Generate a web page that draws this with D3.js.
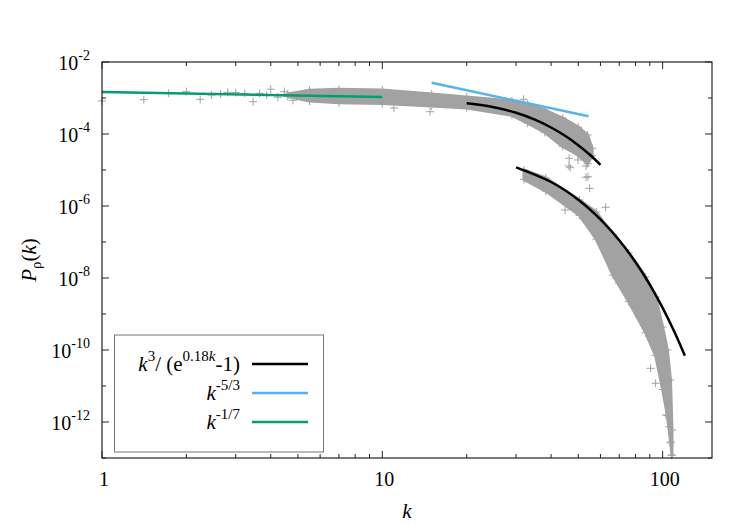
<!DOCTYPE html>
<html><head><meta charset="utf-8">
<script src="https://cdn.jsdelivr.net/npm/d3@7"></script>
<style>body{margin:0;background:#fff}svg{display:block}text{font-family:"Liberation Serif","Times New Roman",serif;fill:#000}</style>
</head><body><svg id="c" width="750" height="525"></svg>
<script>
// ---- data ----
// sparse low-k points of the upper spectrum
const lowK = [1, 1.41, 1.73, 2, 2.24, 2.46, 2.65, 2.81, 3, 3.23, 3.46, 3.65, 3.87, 4, 4.24, 4.47, 4.8];
const lowP = [8.3e-4, 9.0e-4, 1.35e-3, 1.5e-3, 9.2e-4, 1.21e-3, 1.3e-3, 1.44e-3, 1.42e-3, 1.35e-3, 7.9e-4, 1.35e-3, 1.2e-3, 1.75e-3, 1.05e-3, 1.5e-3, 8.6e-4];
// dense cloud envelopes, upper spectrum
const bandAK  = [4.6, 5.5, 7, 10, 15, 20, 29, 33, 38, 44, 50, 54, 56];
const bandAHi = [1.3e-3, 1.65e-3, 1.75e-3, 1.67e-3, 1.29e-3, 1.07e-3, 8.25e-4, 6.81e-4, 4.64e-4, 2.78e-4, 1.56e-4, 9.4e-5, 4.0e-5];
const bandALo = [1.1e-3, 8.2e-4, 7.4e-4, 7.0e-4, 6.0e-4, 5.3e-4, 3.3e-4, 2.0e-4, 1.1e-4, 4.5e-5, 2.6e-5, 1.5e-5, 2.5e-5];
// dense cloud envelopes, lower spectrum
const bandBK  = [32, 38.3, 50.5, 58, 66.5, 75.7, 87, 94.4, 100, 104, 106.7, 108];
const bandBHi = [1.0e-5, 6.0e-6, 1.47e-6, 6.81e-7, 1.56e-7, 4.95e-8, 1.07e-8, 2.97e-9, 4.36e-10, 1.0e-10, 1.47e-11, 6.0e-13];
const bandBLo = [5.5e-6, 2.6e-6, 5.5e-7, 1.2e-7, 1.2e-8, 2.2e-9, 3.0e-10, 7.0e-11, 8.0e-12, 1.5e-12, 2.8e-13, 1.2e-13];
// outlying points
const outK = [11, 14.8, 31.9, 46.4, 46.8, 49.9, 53.3, 54.2, 54.9, 44.9, 46.3, 53.3, 62.6, 70, 90.6, 94.4, 102.7, 105.5, 106.7, 107.5];
const outP = [5.27e-4, 4.16e-4, 9.2e-4, 2.11e-5, 1.16e-5, 1.9e-5, 1.29e-5, 6.5e-6, 3.1e-6, 7.7e-7, 1.29e-5, 6.3e-6, 9.2e-7, 7.1e-9, 3.1e-11, 1.19e-11, 1.56e-12, 7.4e-13, 2.6e-13, 1.2e-13];
// fitted curves
const fit1K = [20, 25, 30, 35, 40, 45, 50, 55, 60];
const fit1P = [7.12e-4, 5.56e-4, 3.88e-4, 2.5e-4, 1.516e-4, 8.77e-5, 4.89e-5, 2.65e-5, 1.397e-5];
const fit2K = [30, 40, 50, 60, 70, 80, 90, 100, 110, 120];
const fit2P = [1.188e-5, 4.64e-6, 1.497e-6, 4.27e-7, 1.122e-7, 2.77e-8, 6.52e-9, 1.477e-9, 3.25e-10, 6.96e-11];
const blueK = [15, 54.4], blueP = [2.66e-3, 3.1e-4];
const greenK = [1, 10], greenP = [1.47e-3, 1.058e-3];
const xTicks = [1, 10, 100];
const yTickExp = [-2, -4, -6, -8, -10, -12];

const GREY = "#a2a2a2", BLACK = "#000", BLUE = "#56b4e9", GREEN = "#009e73";
const svg = d3.select("#c");
const x = d3.scaleLog().domain([1, 150]).range([102, 712]);
const y = d3.scaleLog().domain([1e-13, 1e-2]).range([458, 62]);

const zip = (a, b) => a.map((v, i) => [v, b[i]]);
const line = d3.line().x(d => x(d[0])).y(d => y(d[1])).curve(d3.curveCatmullRom);
const poly = d3.line().x(d => x(d[0])).y(d => y(d[1]));

function plus(K, P) {
  svg.append("g").selectAll("path").data(zip(K, P)).join("path")
    .attr("d", d => `M${x(d[0]) - 4},${y(d[1])}h8M${x(d[0])},${y(d[1]) - 4}v8`)
    .attr("stroke", GREY).attr("stroke-width", 1);
}
// clouds as filled areas with plus marks on their edges
function band(K, Hi, Lo) {
  const pts = zip(K, Hi).concat(zip(K, Lo).reverse());
  svg.append("path").attr("d", poly(pts) + "Z")
    .attr("fill", GREY).attr("stroke", GREY).attr("stroke-width", 3).attr("stroke-linejoin", "round");
  plus(K, Hi); plus(K, Lo);
}
band(bandAK, bandAHi, bandALo);
band(bandBK, bandBHi, bandBLo);
plus(lowK, lowP);
plus(outK, outP);

// curves
function drawLine(K, P, col) {
  svg.append("path").attr("d", line(zip(K, P))).attr("fill", "none")
    .attr("stroke", col).attr("stroke-width", 2.5);
}
drawLine(greenK, greenP, GREEN);
drawLine(blueK, blueP, BLUE);
drawLine(fit1K, fit1P, BLACK);
drawLine(fit2K, fit2P, BLACK);

// frame
svg.append("rect").attr("x", 102).attr("y", 62).attr("width", 610).attr("height", 396)
  .attr("fill", "none").attr("stroke", "#222").attr("stroke-width", 1.2);

// ticks
const tk = svg.append("g").attr("stroke", "#222").attr("stroke-width", 1);
const xMinor = [];
[1, 10, 100].forEach(d => { for (let m = 2; m <= 9; m++) if (d * m <= 150) xMinor.push(d * m); });
xTicks.forEach(v => {
  tk.append("line").attr("x1", x(v)).attr("x2", x(v)).attr("y1", 458).attr("y2", 451);
  tk.append("line").attr("x1", x(v)).attr("x2", x(v)).attr("y1", 62).attr("y2", 69);
});
xMinor.forEach(v => {
  tk.append("line").attr("x1", x(v)).attr("x2", x(v)).attr("y1", 458).attr("y2", 454);
  tk.append("line").attr("x1", x(v)).attr("x2", x(v)).attr("y1", 62).attr("y2", 66);
});
for (let e = -13; e <= -2; e++) {
  const L = (e % 2 === 0) ? 7 : 4;
  const yy = y(Math.pow(10, e));
  tk.append("line").attr("x1", 102).attr("x2", 102 + L).attr("y1", yy).attr("y2", yy);
  tk.append("line").attr("x1", 712).attr("x2", 712 - L).attr("y1", yy).attr("y2", yy);
}

// tick labels
xTicks.forEach(v => {
  svg.append("text").attr("x", x(v) + 2).attr("y", 486).attr("text-anchor", "middle")
    .attr("font-size", 20).text(String(v));
});
yTickExp.forEach(e => {
  const t = svg.append("text").attr("x", 90).attr("y", y(Math.pow(10, e)) + 8)
    .attr("text-anchor", "end").attr("font-size", 20);
  t.append("tspan").text("10");
  t.append("tspan").attr("dy", -10).attr("font-size", 14).text(String(e));
});

// axis titles
const xl = svg.append("text").attr("x", 407).attr("y", 518).attr("text-anchor", "middle").attr("font-size", 21);
xl.append("tspan").attr("font-style", "italic").text("k");
const yl = svg.append("text").attr("transform", "translate(36,260) rotate(-90)").attr("text-anchor", "middle").attr("font-size", 21);
yl.append("tspan").attr("font-style", "italic").text("P");
yl.append("tspan").attr("dy", 5).attr("font-size", 15).text("ρ");
yl.append("tspan").attr("dy", -5).text("(");
yl.append("tspan").attr("font-style", "italic").text("k");
yl.append("tspan").text(")");

// legend
svg.append("rect").attr("x", 114.5).attr("y", 335).attr("width", 209).attr("height", 117)
  .attr("fill", "#fff").attr("stroke", "#777").attr("stroke-width", 1);
const rows = [364, 393, 422];
const cols = [BLACK, BLUE, GREEN];
rows.forEach((ry, i) => {
  svg.append("line").attr("x1", 252).attr("x2", 308).attr("y1", ry).attr("y2", ry)
    .attr("stroke", cols[i]).attr("stroke-width", 2.5);
});
const t1 = svg.append("text").attr("x", 240).attr("y", rows[0] + 7).attr("text-anchor", "end").attr("font-size", 21);
t1.append("tspan").attr("font-style", "italic").text("k");
t1.append("tspan").attr("dy", -10).attr("font-size", 15).text("3");
t1.append("tspan").attr("dy", 10).text("/ (e");
t1.append("tspan").attr("dy", -10).attr("font-size", 15).text("0.18");
t1.append("tspan").attr("font-size", 15).attr("font-style", "italic").text("k");
t1.append("tspan").attr("dy", 10).text("-1)");
const sup = (ry, s) => {
  const t = svg.append("text").attr("x", 240).attr("y", ry + 7).attr("text-anchor", "end").attr("font-size", 21);
  t.append("tspan").attr("font-style", "italic").text("k");
  t.append("tspan").attr("dy", -10).attr("font-size", 15).text(s);
};
sup(rows[1], "-5/3");
sup(rows[2], "-1/7");
</script></body></html>
